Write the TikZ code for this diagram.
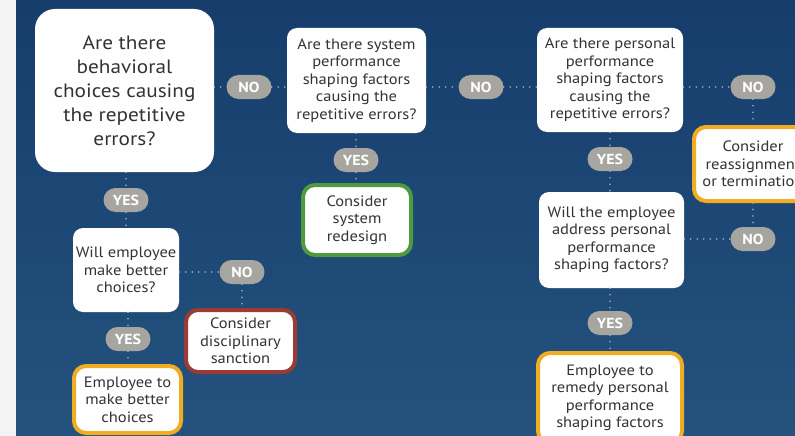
\documentclass[tikz,border=0pt]{standalone}
\usepackage{fontspec}
\setmainfont[FakeStretch=1.1]{PT Sans}
\definecolor{bgtop}{HTML}{163D6C}
\definecolor{bgbot}{HTML}{24527D}
\definecolor{strip}{HTML}{F3F3F3}
\definecolor{ink}{HTML}{333333}
\definecolor{pill}{HTML}{A6A5A0}
\definecolor{dots}{HTML}{A9B3C0}
\definecolor{okgreen}{HTML}{4F9A3F}
\definecolor{warnred}{HTML}{9A3B36}
\definecolor{amber}{HTML}{F0AC22}
\begin{document}
\begin{tikzpicture}[x=1pt,y=-1pt,
  box/.style={fill=white, rounded corners=10pt, align=center, text=ink,
    inner sep=0pt, font=\fontsize{15}{17.5}\selectfont},
  bigbox/.style={box, rounded corners=20pt, font=\fontsize{19.3}{24}\selectfont},
  framed/.style={box, draw=#1, line width=4pt, rounded corners=12pt},
  tag/.style={fill=pill, text=white, rounded corners=12pt, inner sep=0pt,
    minimum width=45pt, minimum height=24pt, font=\fontsize{14.5}{15}\bfseries},
  link/.style={draw=dots, line width=1.8pt, line cap=round,
    dash pattern=on 0pt off 6.5pt}
]
\useasboundingbox (0,0) rectangle (795,436);
\clip (0,0) rectangle (795,436);

% backdrop
\fill[strip] (0,0) rectangle (16,436);
\shade[top color=bgtop, bottom color=bgbot] (16,0) rectangle (795,436);

% questions
\node[bigbox, minimum width=179pt, minimum height=163pt] (A) at (124.5,90.5)
  {Are there\\behavioral\\choices causing\\the repetitive\\errors?};
\node[box, minimum width=139pt, minimum height=105pt] (B) at (356.5,80.5)
  {Are there system\\performance\\shaping factors\\causing the\\repetitive errors?};
\node[box, minimum width=146pt, minimum height=104pt] (D) at (610,80)
  {Are there personal\\performance\\shaping factors\\causing the\\repetitive errors?};
\node[box, minimum width=145pt, minimum height=96pt] (F) at (611.5,240)
  {Will the employee\\address personal\\performance\\shaping factors?};
\node[box, minimum width=106pt, minimum height=84pt] (H) at (126,270)
  {Will employee\\make better\\choices?};

% outcomes
\node[framed=okgreen, minimum width=108pt, minimum height=70pt] (C) at (357,220)
  {Consider\\system\\redesign};
\node[framed=amber, minimum width=118pt, minimum height=74pt] (E) at (753,164)
  {Consider\\reassignment\\or termination};
\node[framed=amber, minimum width=144pt, minimum height=90pt] (G) at (610,398)
  {Employee to\\remedy personal\\performance\\shaping factors};
\node[framed=warnred, minimum width=109pt, minimum height=62pt] (I) at (240.5,341)
  {Consider\\disciplinary\\sanction};
\node[framed=amber, minimum width=107pt, minimum height=67pt] (J) at (127.5,399.5)
  {Employee to\\make better\\choices};

% answer tags
\node[tag] (no1) at (249,87) {NO};
\node[tag] (no2) at (481,87) {NO};
\node[tag] (no3) at (753,87) {NO};
\node[tag] (no4) at (753,239) {NO};
\node[tag] (no5) at (242,272) {NO};
\node[tag] (yes1) at (126,200) {YES};
\node[tag] (yes2) at (356,160) {YES};
\node[tag] (yes3) at (610,159) {YES};
\node[tag] (yes4) at (128,339) {YES};
\node[tag] (yes5) at (610,323) {YES};

% dotted connectors
\path[link] (A.east |- no1) -- (no1.west);
\path[link] (no1.east) -- (B.west |- no1);
\path[link] (B.east |- no2) -- (no2.west);
\path[link] (no2.east) -- (D.west |- no2);
\path[link] (D.east |- no3) -- (no3.west);
\path[link] (no3.south) -- (E.north -| no3);
\path[link] (B.south -| yes2) -- (yes2.north);
\path[link] (yes2.south) -- (C.north -| yes2);
\path[link] (D.south -| yes3) -- (yes3.north);
\path[link] (yes3.south) -- (F.north -| yes3);
\path[link] (E.south -| no4) -- (no4.north);
\path[link] (F.east |- no4) -- (no4.west);
\path[link] (F.south -| yes5) -- (yes5.north);
\path[link] (yes5.south) -- (G.north -| yes5);
\path[link] (A.south -| yes1) -- (yes1.north);
\path[link] (yes1.south) -- (H.north -| yes1);
\path[link] (H.east |- no5) -- (no5.west);
\path[link] (no5.south) -- (I.north -| no5);
\path[link] (H.south -| yes4) -- (yes4.north);
\path[link] (yes4.south) -- (J.north -| yes4);
\end{tikzpicture}
\end{document}
